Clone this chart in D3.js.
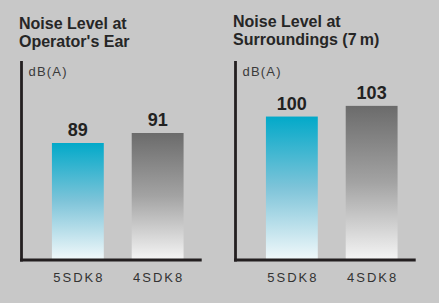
<!DOCTYPE html>
<html>
<head>
<meta charset="utf-8">
<script src="https://cdn.jsdelivr.net/npm/d3@7"></script>
<style>
  html, body { margin: 0; padding: 0; background: #c8c8c8; }
  svg { display: block; }
  text { font-family: "Liberation Sans", Arial, Helvetica, sans-serif; }
</style>
</head>
<body>
<svg id="chart" width="439" height="303"></svg>
<script>
// ---- data ----
const categories = ["5SDK8", "4SDK8"];
const earValues = [89, 91];
const surroundValues = [100, 103];
const earTitle = ["Noise Level at", "Operator's Ear"];
const surroundTitle = ["Noise Level at", "Surroundings (7\u2009m)"];
const unitLabel = "dB(A)";
const earDomain = [65.8, 105.4];
const surroundDomain = [60, 115.6];

const svg = d3.select("#chart");
svg.append("rect").attr("width", 439).attr("height", 303).attr("fill", "#c8c8c8");

const defs = svg.append("defs");
function grad(id, top, mid, bottom) {
  const g = defs.append("linearGradient").attr("id", id)
    .attr("x1", 0).attr("y1", 0).attr("x2", 0).attr("y2", 1);
  g.append("stop").attr("offset", "0%").attr("stop-color", top);
  g.append("stop").attr("offset", "50%").attr("stop-color", mid);
  g.append("stop").attr("offset", "100%").attr("stop-color", bottom);
}
grad("gBlue", "#02a9c9", "#7ec4d9", "#f0f8fa");
grad("gGray", "#6b6b6b", "#a3a3a3", "#f4f4f4");
const fills = ["url(#gBlue)", "url(#gGray)"];

function drawPanel(offsetX, titleLines, titleY, values, domain) {
  const g = svg.append("g").attr("transform", `translate(${offsetX},0)`);
  const baseY = 259, topY = 61;
  const x = d3.scaleBand().domain(categories).range([22, 213.5])
    .paddingInner(0.35).paddingOuter(0.375);
  const y = d3.scaleLinear().domain(domain).range([baseY, topY]);

  // title
  titleLines.forEach((t, i) => {
    g.append("text").attr("x", 19).attr("y", titleY[i])
      .attr("font-size", 16).attr("font-weight", "bold").attr("fill", "#262626")
      .text(t);
  });

  // unit label
  g.append("text").attr("x", 28.5).attr("y", 76)
    .attr("font-size", 13).attr("letter-spacing", 1.2).attr("fill", "#3a3a3a")
    .text(unitLabel);

  // bars
  g.selectAll("rect.bar").data(values).join("rect").attr("class", "bar")
    .attr("x", (d, i) => x(categories[i]))
    .attr("width", x.bandwidth())
    .attr("y", d => y(d))
    .attr("height", d => y(domain[0]) - y(d))
    .attr("fill", (d, i) => fills[i]);

  // value labels
  g.selectAll("text.val").data(values).join("text").attr("class", "val")
    .attr("x", (d, i) => x(categories[i]) + x.bandwidth() / 2)
    .attr("y", d => y(d) - 7)
    .attr("text-anchor", "middle")
    .attr("font-size", 18).attr("font-weight", "bold").attr("fill", "#222")
    .text(d => d);

  // axes lines
  g.append("line").attr("x1", 21.5).attr("x2", 21.5).attr("y1", topY).attr("y2", 261.5)
    .attr("stroke", "#231f20").attr("stroke-width", 2.8);
  g.append("line").attr("x1", 20).attr("x2", 201.7).attr("y1", 260).attr("y2", 260)
    .attr("stroke", "#231f20").attr("stroke-width", 3);

  // category labels via axis
  const ax = g.append("g").attr("transform", `translate(0,${260})`)
    .call(d3.axisBottom(x).tickSize(0).tickPadding(0));
  ax.select(".domain").remove();
  ax.selectAll("text")
    .attr("y", 21.7).attr("dy", 0)
    .attr("dx", 1)
    .attr("font-size", 13).attr("letter-spacing", 2).attr("fill", "#333")
    .attr("font-family", "Liberation Sans, Arial, sans-serif");
}

drawPanel(0, earTitle, [28.5, 46.5], earValues, earDomain);
drawPanel(214, surroundTitle, [26.5, 45], surroundValues, surroundDomain);
</script>
</body>
</html>
